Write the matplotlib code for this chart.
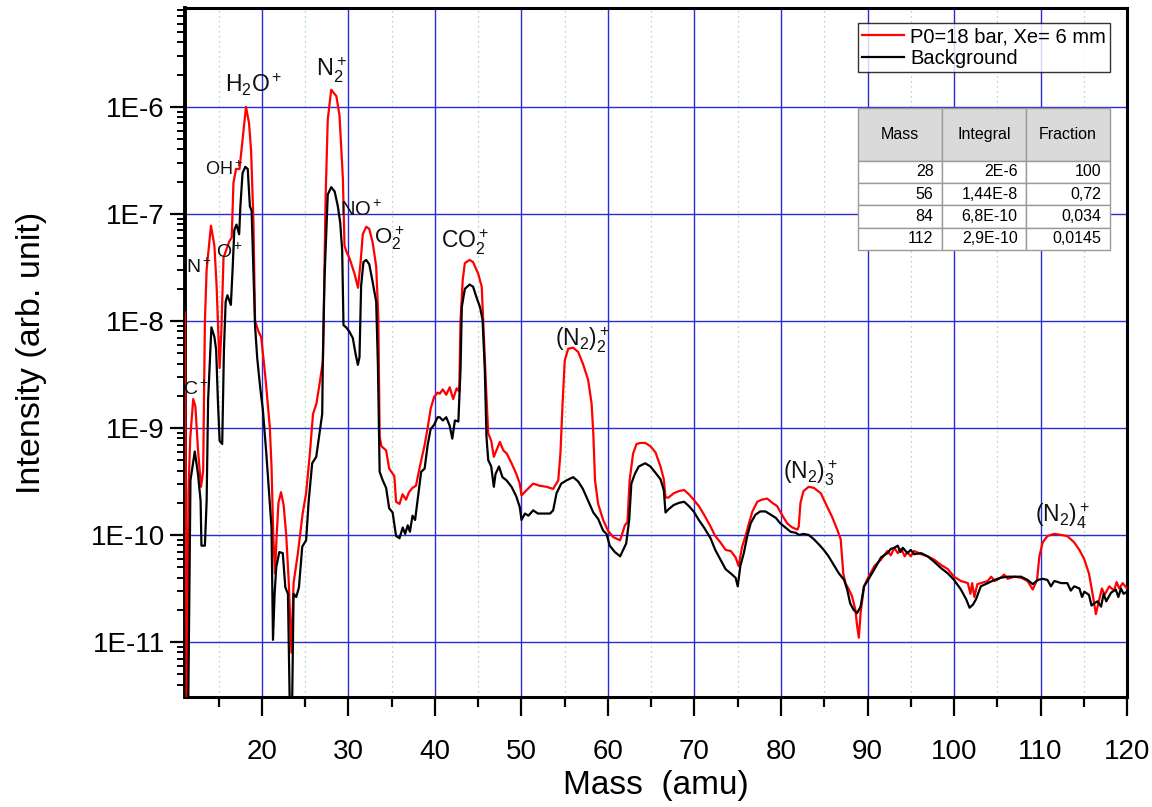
import numpy as np
import matplotlib
matplotlib.use('Agg')
import matplotlib.pyplot as plt
from matplotlib.ticker import FixedLocator, NullFormatter, FuncFormatter

plt.rcParams['font.family'] = ['Liberation Sans', 'DejaVu Sans']
plt.rcParams['mathtext.fontset'] = 'custom'
plt.rcParams['mathtext.rm'] = 'Liberation Sans'
plt.rcParams['mathtext.it'] = 'Liberation Sans:italic'
plt.rcParams['mathtext.bf'] = 'Liberation Sans:bold'

# mass spectrum, P0=18 bar, Xe=6 mm (mass in amu, log10 of intensity)
red_mass = [11.10, 11.30, 11.50, 11.70, 12.05, 12.30, 12.60, 12.95, 13.20, 13.40,
            13.60, 14.10, 14.50, 14.75, 15.10, 15.30, 15.55, 16.20, 16.50, 16.70,
            17.00, 17.40, 17.70, 18.15, 18.50, 18.74, 19.00, 19.20, 19.60, 19.90,
            20.30, 20.50, 20.90, 21.10, 21.30, 21.50, 21.70, 21.90, 22.20, 22.50,
            22.80, 23.10, 23.40, 23.65, 24.15, 24.70, 25.10, 25.50, 25.90, 26.30,
            26.65, 27.05, 27.20, 27.35, 27.60, 28.00, 28.60, 28.96, 29.35, 29.54,
            29.80, 30.10, 30.70, 31.10, 31.40, 31.65, 32.05, 32.40, 32.80, 33.20,
            33.45, 33.60, 33.80, 34.35, 34.70, 35.30, 35.50, 35.90, 36.25, 36.65,
            37.00, 37.40, 37.80, 38.20, 38.80, 39.15, 39.50, 39.90, 40.30, 40.55,
            40.90, 41.30, 41.70, 42.10, 42.50, 42.80, 42.95, 43.20, 43.45, 44.00,
            44.40, 45.00, 45.40, 45.57, 45.90, 46.15, 46.50, 46.80, 47.10, 47.50,
            47.90, 48.30, 48.85, 49.40, 49.80, 50.00, 50.60, 51.35, 52.10, 52.90,
            53.65, 54.25, 54.50, 54.75, 55.00, 55.40, 55.97, 56.55, 57.10, 57.70,
            58.10, 58.30, 58.50, 58.86, 59.44, 60.00, 60.60, 61.40, 61.95, 62.25,
            62.50, 62.90, 63.30, 63.76, 64.30, 64.90, 65.50, 66.07, 66.45, 66.65,
            67.00, 67.60, 68.20, 68.80, 69.35, 69.90, 70.50, 71.10, 71.85, 72.40,
            73.00, 73.60, 74.20, 74.75, 75.10, 75.50, 75.90, 76.30, 76.70, 77.25,
            77.80, 78.40, 79.00, 79.55, 80.10, 80.70, 81.30, 81.90, 82.05, 82.25,
            82.60, 83.20, 83.80, 84.60, 85.30, 85.90, 86.50, 86.90, 87.20, 87.45,
            87.85, 88.20, 88.60, 88.80, 89.00, 89.20, 89.60, 90.00, 90.80, 91.56,
            92.30, 92.70, 93.10, 93.50, 93.90, 94.30, 94.60, 95.00, 95.40, 96.20,
            96.95, 97.70, 98.50, 99.30, 100.00, 100.80, 101.60, 101.90, 102.10, 102.35,
            102.70, 103.10, 103.90, 104.30, 104.70, 105.40, 105.80, 106.20, 107.00, 107.75,
            108.50, 109.10, 109.60, 109.87, 110.25, 110.80, 111.60, 112.40, 113.10, 113.90,
            114.50, 115.07, 115.60, 116.00, 116.40, 116.80, 117.10, 117.40, 117.95, 118.50,
            118.80, 119.10, 119.50, 120.00]
red_lg = [-7.92, -11.80, -9.60, -9.10, -8.73, -8.80, -9.20, -9.55, -9.40, -8.00,
          -7.52, -7.11, -7.30, -7.67, -8.44, -8.10, -7.41, -7.26, -7.22, -6.71,
          -6.58, -6.58, -6.35, -6.00, -6.15, -6.41, -7.04, -8.00, -8.10, -8.15,
          -8.45, -8.62, -8.99, -9.36, -9.99, -10.36, -10.00, -9.70, -9.60, -9.72,
          -10.00, -10.45, -11.10, -10.45, -10.17, -9.80, -9.61, -9.27, -8.87, -8.77,
          -8.59, -8.37, -7.60, -6.86, -6.12, -5.84, -5.90, -6.08, -6.67, -7.30,
          -7.36, -7.41, -7.56, -7.69, -7.45, -7.19, -7.12, -7.14, -7.27, -7.49,
          -7.97, -9.08, -9.17, -9.21, -9.38, -9.45, -9.69, -9.71, -9.62, -9.67,
          -9.60, -9.56, -9.54, -9.38, -9.16, -9.00, -8.82, -8.71, -8.67, -8.68,
          -8.64, -8.69, -8.62, -8.73, -8.63, -8.66, -8.00, -7.62, -7.46, -7.43,
          -7.45, -7.56, -7.68, -7.99, -8.62, -9.05, -9.12, -9.27, -9.21, -9.13,
          -9.21, -9.24, -9.33, -9.43, -9.52, -9.63, -9.58, -9.52, -9.54, -9.55,
          -9.57, -9.49, -9.24, -8.77, -8.37, -8.26, -8.25, -8.29, -8.40, -8.55,
          -8.77, -9.05, -9.49, -9.71, -9.86, -9.96, -10.02, -10.05, -9.91, -9.88,
          -9.49, -9.24, -9.15, -9.14, -9.14, -9.17, -9.23, -9.36, -9.48, -9.65,
          -9.65, -9.61, -9.59, -9.58, -9.62, -9.67, -9.73, -9.81, -9.92, -10.01,
          -10.07, -10.14, -10.15, -10.21, -10.29, -10.11, -10.01, -9.89, -9.78, -9.69,
          -9.67, -9.66, -9.70, -9.73, -9.81, -9.89, -9.93, -9.95, -9.92, -9.70,
          -9.59, -9.55, -9.56, -9.61, -9.73, -9.83, -9.95, -10.04, -10.36, -10.45,
          -10.51, -10.57, -10.70, -10.85, -10.96, -10.73, -10.48, -10.41, -10.29, -10.23,
          -10.15, -10.19, -10.12, -10.17, -10.13, -10.20, -10.16, -10.20, -10.15, -10.18,
          -10.20, -10.23, -10.28, -10.32, -10.39, -10.43, -10.45, -10.55, -10.45, -10.58,
          -10.46, -10.45, -10.43, -10.39, -10.43, -10.40, -10.37, -10.41, -10.39, -10.40,
          -10.43, -10.51, -10.42, -10.20, -10.07, -10.01, -9.99, -10.00, -10.01, -10.07,
          -10.14, -10.23, -10.36, -10.54, -10.74, -10.60, -10.50, -10.56, -10.48, -10.52,
          -10.44, -10.50, -10.45, -10.50]

# background spectrum
bg_mass = [11.10, 11.45, 11.73, 12.23, 12.60, 12.90, 13.00, 13.40, 13.60, 13.77,
           14.15, 14.50, 14.70, 14.90, 15.10, 15.40, 15.60, 15.80, 16.00, 16.40,
           16.60, 16.80, 17.05, 17.36, 17.50, 17.75, 18.07, 18.35, 18.60, 18.80,
           19.00, 19.20, 19.45, 19.80, 20.10, 20.50, 20.80, 21.10, 21.27, 21.46,
           21.65, 22.00, 22.40, 22.70, 23.00, 23.25, 23.45, 23.65, 23.96, 24.27,
           24.65, 25.10, 25.40, 25.80, 26.27, 26.65, 26.96, 27.04, 27.23, 27.40,
           27.60, 28.00, 28.40, 28.77, 29.04, 29.27, 29.42, 29.73, 30.10, 30.50,
           30.80, 31.08, 31.27, 31.46, 31.73, 32.04, 32.40, 32.80, 33.20, 33.40,
           33.60, 33.96, 34.35, 34.70, 35.10, 35.50, 35.90, 36.27, 36.55, 36.85,
           37.10, 37.40, 37.70, 38.00, 38.40, 38.80, 39.15, 39.50, 39.90, 40.30,
           40.55, 40.90, 41.30, 41.70, 42.00, 42.30, 42.70, 42.95, 43.10, 43.45,
           44.00, 44.40, 44.80, 45.20, 45.50, 45.76, 45.95, 46.15, 46.50, 46.80,
           47.00, 47.40, 47.80, 48.27, 48.85, 49.40, 49.80, 50.00, 50.40, 50.80,
           51.35, 51.90, 52.70, 53.30, 53.66, 54.05, 54.60, 55.20, 55.97, 56.55,
           57.10, 57.70, 58.30, 58.86, 59.44, 59.83, 60.20, 60.80, 61.40, 61.75,
           62.10, 62.45, 62.70, 63.10, 63.56, 64.30, 64.90, 65.50, 66.07, 66.45,
           66.65, 67.00, 67.60, 68.20, 68.80, 69.35, 69.90, 70.50, 71.10, 71.85,
           72.40, 73.00, 73.60, 74.20, 74.75, 75.00, 75.30, 75.70, 76.10, 76.50,
           77.05, 77.60, 78.20, 78.80, 79.40, 79.90, 80.50, 81.10, 81.70, 82.10,
           82.60, 83.20, 83.80, 84.40, 84.95, 85.50, 86.10, 86.70, 87.30, 87.65,
           88.00, 88.40, 88.80, 89.20, 89.60, 90.00, 90.80, 91.56, 92.30, 92.70,
           93.10, 93.50, 93.80, 94.10, 94.60, 95.00, 95.40, 96.20, 96.95, 97.70,
           98.50, 99.30, 100.00, 100.80, 101.40, 101.80, 102.20, 102.55, 103.10, 103.90,
           104.70, 105.40, 106.20, 107.00, 107.75, 108.50, 109.10, 109.70, 110.25, 110.80,
           111.20, 111.60, 112.40, 113.10, 113.50, 113.90, 114.50, 114.80, 115.07, 115.60,
           115.90, 116.20, 116.60, 117.00, 117.30, 117.60, 118.15, 118.70, 119.00, 119.30,
           119.60, 120.00]
bg_lg = [-11.80, -11.80, -9.49, -9.22, -9.43, -9.68, -10.10, -10.10, -9.68, -8.74,
         -8.06, -8.15, -8.27, -8.74, -9.12, -9.15, -8.27, -7.82, -7.76, -7.85,
         -7.52, -7.15, -7.10, -7.19, -6.93, -6.62, -6.56, -6.58, -6.93, -6.97,
         -7.50, -8.05, -8.35, -8.63, -8.83, -9.24, -9.58, -9.93, -10.98, -10.55,
         -10.30, -10.16, -10.17, -10.49, -10.55, -11.80, -11.80, -10.55, -10.58, -10.49,
         -10.11, -10.05, -9.68, -9.33, -9.27, -9.05, -8.87, -8.34, -7.60, -7.23,
         -6.82, -6.75, -6.79, -6.93, -7.08, -7.34, -8.04, -8.06, -8.10, -8.16,
         -8.30, -8.41, -8.34, -7.67, -7.45, -7.43, -7.47, -7.64, -7.82, -8.41,
         -9.41, -9.49, -9.56, -9.75, -9.79, -10.01, -10.03, -9.93, -9.99, -9.91,
         -9.97, -9.82, -9.86, -9.67, -9.41, -9.38, -9.16, -9.01, -8.97, -8.90,
         -8.90, -8.93, -8.90, -8.98, -9.10, -8.93, -8.94, -8.46, -7.87, -7.70,
         -7.66, -7.68, -7.78, -7.87, -7.99, -8.46, -9.08, -9.30, -9.36, -9.55,
         -9.43, -9.36, -9.46, -9.49, -9.55, -9.64, -9.74, -9.86, -9.80, -9.82,
         -9.77, -9.80, -9.80, -9.80, -9.77, -9.61, -9.52, -9.49, -9.46, -9.50,
         -9.57, -9.68, -9.79, -9.85, -9.96, -9.99, -10.10, -10.16, -10.20, -10.14,
         -10.08, -9.86, -9.52, -9.43, -9.36, -9.33, -9.36, -9.42, -9.48, -9.58,
         -9.79, -9.76, -9.72, -9.70, -9.69, -9.73, -9.78, -9.86, -9.93, -10.03,
         -10.14, -10.23, -10.32, -10.36, -10.40, -10.48, -10.29, -10.17, -10.01, -9.89,
         -9.81, -9.78, -9.78, -9.81, -9.84, -9.89, -9.93, -9.97, -9.98, -10.00,
         -9.99, -10.00, -10.04, -10.09, -10.14, -10.20, -10.28, -10.36, -10.42, -10.51,
         -10.64, -10.70, -10.73, -10.67, -10.48, -10.43, -10.32, -10.21, -10.17, -10.13,
         -10.12, -10.10, -10.16, -10.12, -10.17, -10.14, -10.18, -10.17, -10.20, -10.25,
         -10.31, -10.36, -10.42, -10.51, -10.60, -10.68, -10.65, -10.60, -10.48, -10.45,
         -10.42, -10.40, -10.39, -10.39, -10.39, -10.42, -10.46, -10.42, -10.41, -10.42,
         -10.48, -10.43, -10.45, -10.45, -10.52, -10.48, -10.50, -10.58, -10.53, -10.56,
         -10.66, -10.64, -10.62, -10.67, -10.55, -10.62, -10.54, -10.51, -10.58, -10.50,
         -10.55, -10.53]

# integrated peak table
tab_cols = ['Mass', 'Integral', 'Fraction']
tab_mass = ['28', '56', '84', '112']
tab_integral = ['2E-6', '1,44E-8', '6,8E-10', '2,9E-10']
tab_fraction = ['100', '0,72', '0,034', '0,0145']

red_int = 10.0 ** np.array(red_lg)
bg_int = 10.0 ** np.array(bg_lg)

fig = plt.figure(figsize=(11.52, 8.07), dpi=100)
ax = fig.add_axes([0.1606, 0.1363, 0.8177, 0.8538])

ax.plot(red_mass, red_int, color='#ff0000', lw=1.6, label='P0=18 bar, Xe= 6 mm', zorder=3)
ax.plot(bg_mass, bg_int, color='black', lw=1.6, label='Background', zorder=4)

ax.set_yscale('log')
ax.set_xlim(11.1, 120)
ax.set_ylim(3.06e-12, 8.4e-6)

# ticks only inside the visible range
decades = np.arange(-11, -5)
minor_y = [k * 10.0 ** d for d in range(-12, -5) for k in range(2, 10)
           if 3.06e-12 <= k * 10.0 ** d <= 8.4e-6]
ax.xaxis.set_major_locator(FixedLocator(np.arange(20, 121, 10)))
ax.xaxis.set_minor_locator(FixedLocator(np.arange(15, 120, 10)))
ax.yaxis.set_major_locator(FixedLocator(10.0 ** decades))
ax.yaxis.set_minor_locator(FixedLocator(minor_y))
ax.yaxis.set_minor_formatter(NullFormatter())
ax.yaxis.set_major_formatter(FuncFormatter(lambda v, p: '1E%d' % round(np.log10(v))))

ax.tick_params(axis='x', which='major', direction='out', length=13.5, width=1.6,
               labelsize=20, pad=16.5)
ax.tick_params(axis='x', which='minor', direction='out', length=7, width=1.6)
ax.tick_params(axis='y', which='major', direction='out', length=10.5, width=1.6,
               labelsize=20, pad=4)
ax.tick_params(axis='y', which='minor', direction='out', length=5.5, width=1.4)

for s in ax.spines.values():
    s.set_linewidth(2.2)
ax.spines['left'].set_linewidth(2.8)

ax.set_axisbelow(True)
ax.grid(True, which='major', axis='both', color='#2b2bd6', lw=1.0)
ax.grid(True, which='minor', axis='x', color='#8fd88f', lw=0.9, ls=(0, (1, 3)))
ax.grid(False, which='minor', axis='y')

ax.set_xlabel('Mass  (amu)', fontsize=24)
ax.set_ylabel('Intensity (arb. unit)', fontsize=24.5)
ax.xaxis.set_label_coords(0.5, -0.106)
ax.yaxis.set_label_coords(-0.147, 0.5)

# peak assignments
labels = [
    (r'$\mathregular{C^+}$', 12.37, 2.3e-9, 14),
    (r'$\mathregular{N^+}$', 12.75, 3.2e-8, 14),
    (r'$\mathregular{O^+}$', 16.2, 4.4e-8, 14),
    (r'$\mathregular{OH^+}$', 15.6, 2.6e-7, 13),
    (r'$\mathregular{H_2O^+}$', 19.1, 1.6e-6, 16.5),
    (r'$\mathregular{N_2^+}$', 28.0, 2.2e-6, 17),
    (r'$\mathregular{NO^+}$', 31.5, 1.1e-7, 14.5),
    (r'$\mathregular{O_2^+}$', 34.7, 5.9e-8, 16),
    (r'$\mathregular{CO_2^+}$', 43.4, 5.4e-8, 16.5),
    (r'$\mathregular{(N_2)_2^+}$', 57.0, 6.6e-9, 16.5),
    (r'$\mathregular{(N_2)_3^+}$', 83.4, 3.8e-10, 16.5),
    (r'$\mathregular{(N_2)_4^+}$', 112.5, 1.5e-10, 16.5),
]
for txt, x, y, fs in labels:
    ax.text(x, y, txt, fontsize=fs, ha='center', va='center', color='#111111', zorder=5)

leg = ax.legend(loc='upper right', bbox_to_anchor=(0.982, 0.978), borderaxespad=0,
                fontsize=14.5, frameon=True, fancybox=False, handlelength=2.1,
                handletextpad=0.3, labelspacing=0.15, borderpad=0.2)
leg.get_frame().set_edgecolor('black')
leg.get_frame().set_linewidth(1.0)
leg.set_zorder(6)

rows = [[m, i, f] for m, i, f in zip(tab_mass, tab_integral, tab_fraction)]
tbl = ax.table(cellText=rows, colLabels=tab_cols, cellLoc='right', colLoc='center',
               bbox=[0.7144, 0.6488, 0.2675, 0.2061], zorder=6)
tbl.auto_set_font_size(False)
tbl.set_fontsize(11.5)
for (r, c), cell in tbl.get_celld().items():
    cell.set_edgecolor('#9a9a9a')
    cell.set_linewidth(1.0)
    if r == 0:
        cell.set_facecolor('#dadada')
        cell.set_height(52)
    else:
        cell.set_facecolor('white')
        cell.set_height(22)

fig.savefig('out.png', dpi=100)
